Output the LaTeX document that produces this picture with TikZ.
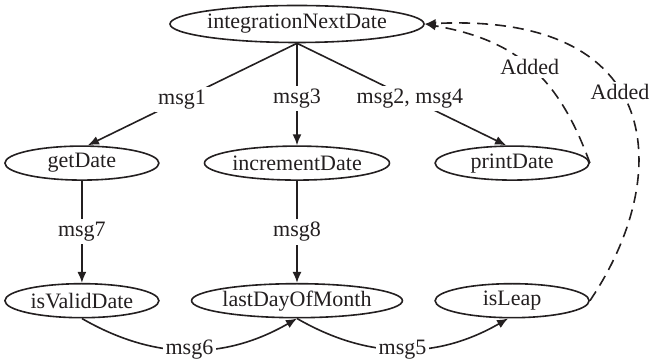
\documentclass[tikz,border=0pt]{standalone}
\usepackage{fontspec}
\setmainfont{Liberation Serif}
\usepackage{xcolor}
\usepackage{tikz}
\usetikzlibrary{arrows.meta, positioning, shapes.geometric}
\definecolor{ink}{HTML}{231F20}
\tikzset{
    unit/.style={
        draw=ink, ellipse, line width=0.8pt,
        minimum width=77pt, minimum height=17pt, inner sep=0pt,
        font=\fontsize{11}{13}\selectfont\color{ink},
    },
    call/.style={
        -{Latex[length=5.5pt, width=4.5pt]}, line width=0.8pt, ink,
    },
    added/.style={
        call, dash pattern=on 5.5pt off 3.5pt,
    },
    msglbl/.style={
        fill=white, inner sep=1.5pt,
        font=\fontsize{11}{13}\selectfont\color{ink},
    },
}
\begin{document}
\begin{tikzpicture}[node distance=51pt]
\useasboundingbox (-148.5pt, 12pt) rectangle (177pt, -169pt);

% ═══ UNITS ═══
\node[unit, minimum width=125pt, minimum height=18.5pt] (intd) at (0, 0) {integrationNextDate};
\node[unit, minimum width=92.5pt, below=of intd] (inc) {incrementDate};
\node[unit, left=22pt of inc] (get) {getDate};
\node[unit, right=22pt of inc] (print) {printDate};

\node[unit, minimum width=104.5pt, below=of inc] (last) {lastDayOfMonth};
\node[unit, below=of get] (valid) {isValidDate};
\node[unit, below=of print] (leap) {isLeap};

% ═══ CALLS ═══
\draw[call] (intd.south) -- node[msglbl, pos=0.55] {msg1} ([xshift=3pt]get.north);
\draw[call] (intd.south) -- node[msglbl, pos=0.54] {msg3} (inc.north);
\draw[call] (intd.south) -- node[msglbl, pos=0.54] {msg2, msg4} ([xshift=-3pt]print.north);

\draw[call] (get) -- node[msglbl] {msg7} (valid);
\draw[call] (inc) -- node[msglbl] {msg8} (last);

\draw[call] (valid.south) to[out=-30, in=-150] node[msglbl] {msg6} (last.south);
\draw[call] (last.south) to[out=-30, in=-150] node[msglbl] {msg5} ([xshift=-2pt]leap.south);

% Added edges (dashed)
\draw[added] (print.east) to[out=110, in=-10, looseness=1.1] node[msglbl] {Added} (intd.east);
\draw[added] (leap.east) .. controls +(42pt, 62pt) and +(121pt, 6pt) .. (intd.east)
    node[msglbl, pos=0.56] {Added};

\end{tikzpicture}
\end{document}
